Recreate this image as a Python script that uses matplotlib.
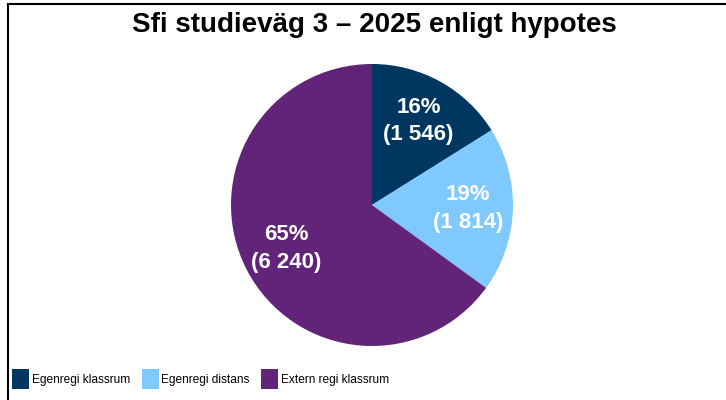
#!/usr/bin/env python3
"""
Sfi studieväg 3 - pie chart with counts and shares.
"""

import matplotlib.pyplot as plt
import matplotlib.patches as mpatches

plt.rcParams['font.family'] = ['Liberation Sans', 'DejaVu Sans']

# Data
categories = ['Egenregi klassrum', 'Egenregi distans', 'Extern regi klassrum']
counts = [1546, 1814, 6240]
colors = ['#003761', '#80c9ff', '#612479']

W, H = 726, 400


def label_for(pct, total):
    n = int(round(pct * total / 100.0))
    return f'{pct:.0f}%\n({n:,})'.replace(',', ' ')


fig = plt.figure(figsize=(W / 100, H / 100), dpi=100)

# Outer frame (cut at right and bottom like the screenshot)
frame = mpatches.Rectangle((8 / W, -0.05), 1.2, 0.05 + 1 - 4 / H,
                           transform=fig.transFigure, fill=False,
                           edgecolor='black', linewidth=1.5, zorder=10)
fig.add_artist(frame)

# Pie axes: centre (372, 205) px, radius 141 px
cx, cy, r = 372, 205, 141
ax = fig.add_axes([(cx - r) / W, (H - cy - r) / H, 2 * r / W, 2 * r / H])
total = sum(counts)
wedges, texts, autotexts = ax.pie(
    counts, colors=colors, startangle=90, counterclock=False,
    autopct=lambda p: label_for(p, total), pctdistance=0.68,
    radius=1, wedgeprops=dict(linewidth=0))
for t in autotexts:
    t.set_color('white')
    t.set_fontsize(16)
    t.set_fontweight('bold')
    t.set_linespacing(1.4)
ax.set_xlim(-1, 1)
ax.set_ylim(-1, 1)
ax.axis('off')

fig.text(374 / W, 1 - 25 / H, 'Sfi studieväg 3 – 2025 enligt hypotes',
         ha='center', va='center', fontsize=20, fontweight='bold')

handles = [mpatches.Patch(facecolor=c, edgecolor='none') for c in colors]
fig.legend(handles, categories, loc='center left', ncol=3,
           bbox_to_anchor=(12 / W, 1 - 379 / H), frameon=False,
           fontsize=8.6, handlelength=1.42, handleheight=2.2,
           handletextpad=0.25, columnspacing=0.95, borderpad=0, borderaxespad=0)

fig.savefig('out.png', dpi=100, facecolor='white')
